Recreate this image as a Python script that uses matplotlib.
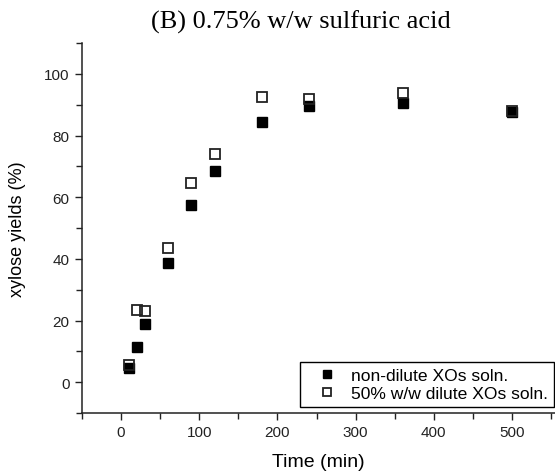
import matplotlib
matplotlib.use("Agg")
import matplotlib.pyplot as plt
from matplotlib.ticker import MultipleLocator

time_min = [10, 20, 30, 60, 90, 120, 180, 240, 360, 500]
non_dilute = [4.5, 11.5, 19.0, 38.5, 57.5, 68.5, 84.5, 89.5, 90.5, 87.5]
dilute_50 = [5.5, 23.5, 23.0, 43.5, 64.5, 74.0, 92.5, 91.8, 93.8, 88.0]

title = "(B) 0.75% w/w sulfuric acid"
xlabel = "Time (min)"
ylabel = "xylose yields (%)"
labels = ["non-dilute XOs soln.", "50% w/w dilute XOs soln."]

plt.rcParams['font.family'] = ['Liberation Sans', 'DejaVu Sans']

fig = plt.figure(figsize=(5.55, 4.77), dpi=100)
ax = fig.add_axes([82/555, 1-414/477, 1-82/555, (414-44)/477])

ax.plot(time_min, non_dilute, linestyle='none', marker='s', markersize=7,
        markerfacecolor='black', markeredgecolor='black', markeredgewidth=1.0,
        label=labels[0], zorder=3)
ax.plot(time_min, dilute_50, linestyle='none', marker='s', markersize=7,
        markerfacecolor='none', markeredgecolor='#222222', markeredgewidth=1.3,
        label=labels[1], zorder=4)

ax.set_xlim(-50, 555)
ax.set_ylim(-10, 110)
ax.xaxis.set_major_locator(MultipleLocator(100))
ax.xaxis.set_minor_locator(MultipleLocator(50))
ax.yaxis.set_major_locator(MultipleLocator(20))
ax.yaxis.set_minor_locator(MultipleLocator(10))
ax.set_yticks([0, 20, 40, 60, 80, 100])

for s in ['top', 'right']:
    ax.spines[s].set_visible(False)
for s in ['left', 'bottom']:
    ax.spines[s].set_linewidth(1.1)
    ax.spines[s].set_color('#222222')

ax.tick_params(axis='both', which='major', direction='out', length=5, width=1.0,
               labelsize=11, colors='#222222', labelcolor='#222222', pad=4)
ax.tick_params(axis='both', which='minor', direction='out', length=4, width=1.0,
               colors='#222222')

ax.set_xlabel(xlabel, fontsize=14, labelpad=10)
ax.set_ylabel(ylabel, fontsize=13, labelpad=13)

fig.text(301/555, 1-22/477, title, ha='center', va='center', fontsize=19,
         family=['Liberation Serif', 'DejaVu Serif'])

leg = ax.legend(loc='lower left', bbox_to_anchor=(300/555, 1-408/477),
                bbox_transform=fig.transFigure, borderaxespad=0, fontsize=12.6,
                frameon=True, fancybox=False, edgecolor='black', framealpha=1,
                handletextpad=0.1, borderpad=0.32, labelspacing=0.18,
                handlelength=2.5, markerscale=0.85)
leg.get_frame().set_linewidth(1.0)

fig.savefig("out.png", dpi=100)
